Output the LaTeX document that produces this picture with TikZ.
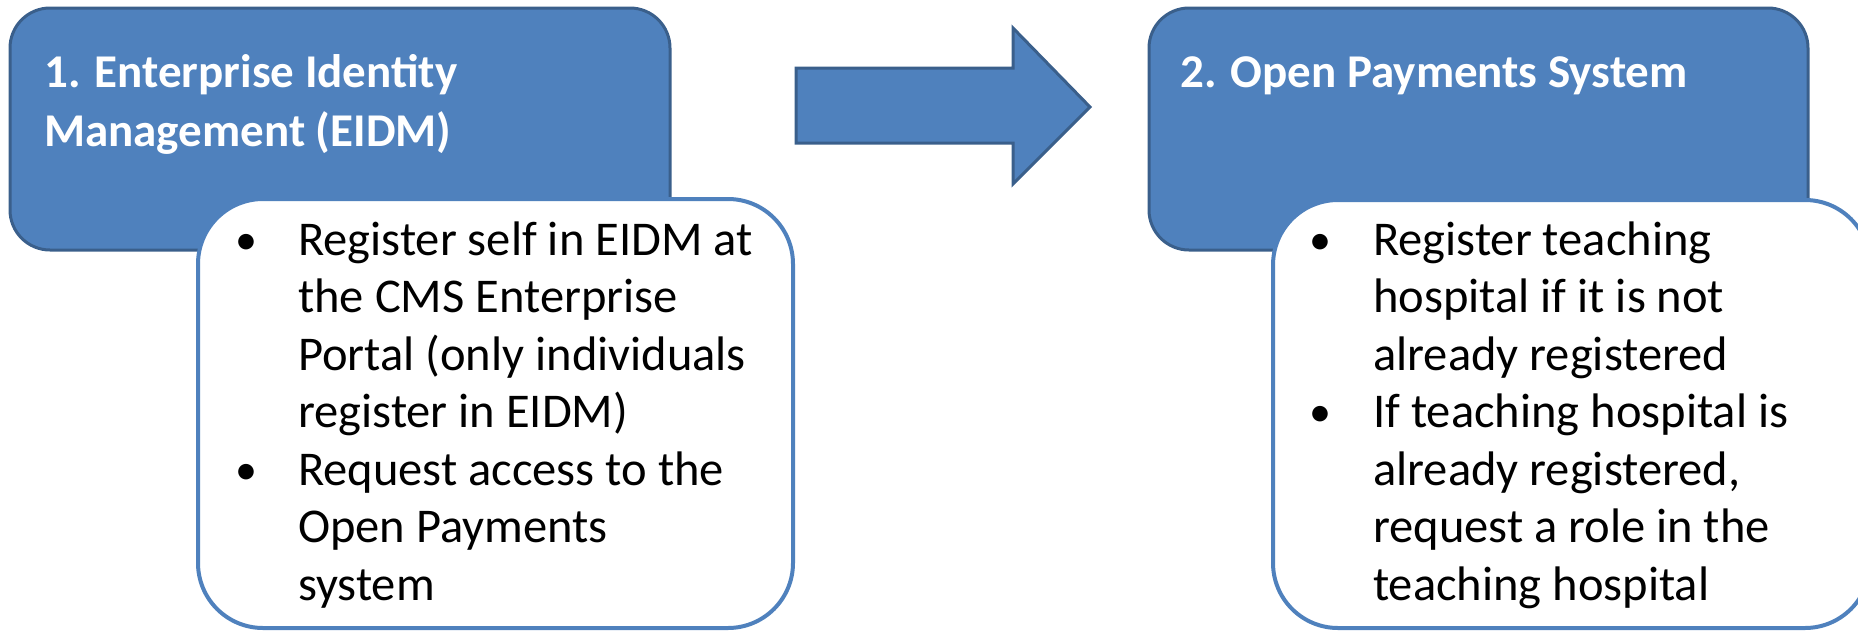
\documentclass[tikz,border=0pt]{standalone}
\usepackage{fontspec}
\setmainfont{Carlito}
\definecolor{boxblue}{HTML}{4F81BD}
\definecolor{edgeblue}{HTML}{3A5F8B}
\tikzset{
  bluebox/.style={fill=boxblue, draw=edgeblue, line width=3pt, rounded corners=40pt},
  whitebox/.style={fill=white, draw=boxblue, line width=4pt, rounded corners=65pt},
  bigarrow/.style={fill=boxblue, draw=edgeblue, line width=3pt, line join=miter},
  title/.style={anchor=base west, inner sep=0pt, text=white, font=\fontsize{47pt}{56pt}\selectfont\bfseries},
  item/.style={anchor=base west, inner sep=0pt, text=black, font=\fontsize{48.5pt}{57.5pt}\selectfont},
  dot/.style={anchor=base, inner sep=0pt, text=black, font=\fontsize{44pt}{57.5pt}\selectfont}
}
\begin{document}
\begin{tikzpicture}[x=1pt,y=-1pt]
\useasboundingbox (0,0) rectangle (1858,632);
\begin{scope}
\clip (0,0) rectangle (1858,632);
% step 1
\draw[bluebox] (10,8) rectangle (670,250);
\draw[whitebox] (198,199) rectangle (793,628);
% arrow
\draw[bigarrow] (796,68) -- (1013,68) -- (1013,28) -- (1090,107) -- (1013,184) -- (1013,143) -- (796,143) -- cycle;
% step 2
\draw[bluebox] (1149,8) rectangle (1808,250);
\draw[whitebox] (1273,200) rectangle (1870,628);
\end{scope}
% titles
\node[title] (t1a) at (44,87) {1. Enterprise Identity};
\node[title] (t1b) at (44,146) {Management (EIDM)};
\node[title] (t2) at (1180,87) {2. Open Payments System};
% bullets box 1
\node[dot] (b1a) at (246,254) {•};
\node[dot] (b1b) at (246,484) {•};
\node[item] (l1) at (298,255) {Register self in EIDM at};
\node[item] (l2) at (298,312.5) {the CMS Enterprise};
\node[item] (l3) at (298,370) {Portal (only individuals};
\node[item] (l4) at (298,427.5) {register in EIDM)};
\node[item] (l5) at (298,485) {Request access to the};
\node[item] (l6) at (298,542.5) {Open Payments};
\node[item] (l7) at (298,600) {system};
% bullets box 2
\node[dot] (b2a) at (1320,254) {•};
\node[dot] (b2b) at (1320,426.5) {•};
\node[item] (m1) at (1373,255) {Register teaching};
\node[item] (m2) at (1373,312.5) {hospital if it is not};
\node[item] (m3) at (1373,370) {already registered};
\node[item] (m4) at (1373,427.5) {If teaching hospital is};
\node[item] (m5) at (1373,485) {already registered,};
\node[item] (m6) at (1373,542.5) {request a role in the};
\node[item] (m7) at (1373,600) {teaching hospital};
\end{tikzpicture}
\end{document}
